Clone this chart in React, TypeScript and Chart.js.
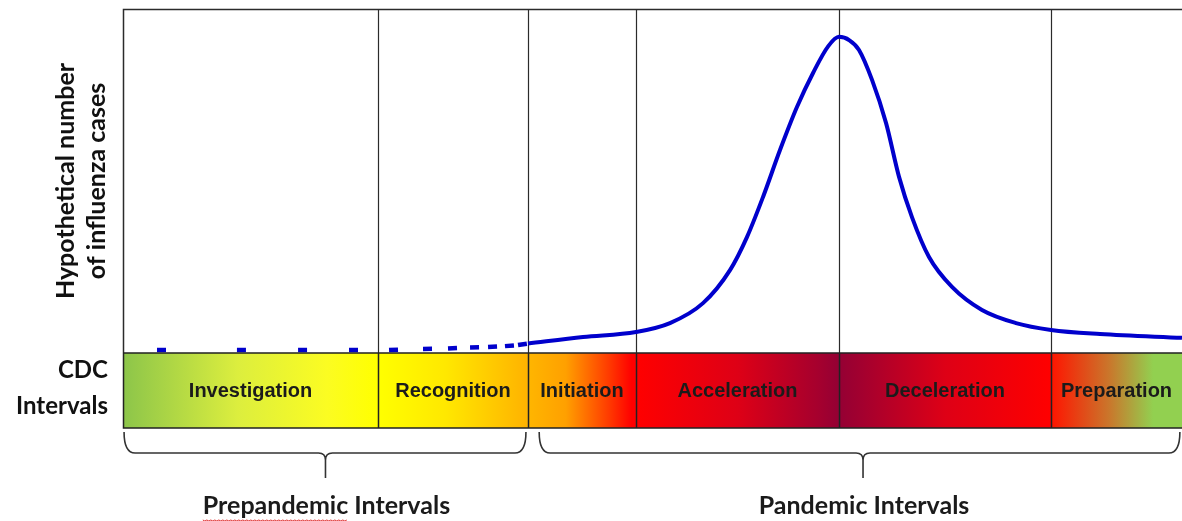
import { useEffect, useRef } from 'react';
import { Chart, registerables } from 'chart.js';

Chart.register(...registerables);

// ---- data (timeline units 0..100, relative number of cases 0..100) ----
const intervalNames = ['Investigation', 'Recognition', 'Initiation', 'Acceleration', 'Deceleration', 'Preparation'];
const intervalBounds = [0, 24.08, 38.24, 48.44, 67.61, 87.63, 100];

// dashed (prepandemic) part: each point starts one dash
const dashX = [3.21, 10.76, 16.53, 21.34, 25.12, 28.33, 30.69, 32.77, 34.47, 36.07, 37.3, 38.24];
const dashY = [0.87, 0.87, 0.87, 0.87, 0.87, 1.16, 1.3, 1.6, 1.74, 2.0, 2.3, 2.76];

// solid (pandemic) curve
const curveX = [38.24, 43.44, 48.44, 51.65, 54.77, 57.32, 58.92, 60.43, 62.04, 63.64, 65.16, 66.6, 67.61,
  68.6, 69.5, 70.73, 72.05, 73.28, 74.5, 76.11, 78.28, 81.11, 84.32, 87.63, 92.26, 100];
const curveY = [2.76, 4.65, 6.1, 8.7, 14.5, 24.1, 33.7, 45.3, 59.0, 71.5, 81.4, 89.2, 91.9,
  90.9, 88.1, 79.4, 66.9, 51.2, 39.5, 27.9, 19.2, 12.5, 8.7, 6.7, 5.5, 4.4];

const braceLabels = ['Prepandemic Intervals', 'Pandemic Intervals'];
const braceFrom = [0.1, 39.3];
const braceTo = [38.05, 99.8];
const braceTip = [19.12, 69.88];

const yTitleLines = ['Hypothetical number', 'of influenza cases'];
const bandTitleLines = ['CDC', 'Intervals'];

// ---- styles ----
const bandStops: [number, string][][] = [
  [[0, '#8cc54a'], [0.45, '#dcee3e'], [0.8, '#fbfc22'], [1, '#ffff00']],
  [[0, '#ffff00'], [0.45, '#ffe800'], [1, '#ffb200']],
  [[0, '#ffb600'], [0.35, '#ffa000'], [0.75, '#ff3a00'], [0.96, '#ff0000'], [1, '#ff0000']],
  [[0, '#ff0000'], [0.5, '#de0016'], [0.9, '#a5002e'], [1, '#940034']],
  [[0, '#940034'], [0.12, '#a5002e'], [0.5, '#de0016'], [1, '#ff0000']],
  [[0, '#ff1400'], [0.45, '#c9782c'], [0.78, '#92d050'], [1, '#92d050']],
];
const BLUE = '#0000cc';
const BAND_H = 75;
const TEXT = '#1b1b1b';
const TITLE_FONT = 'bold 25px Lato';
const SIDE_FONT = 'bold 24px Lato';

const overlay = {
  id: 'overlay',
  beforeDatasetsDraw(chart: any) {
    const { ctx, chartArea: a, scales } = chart;
    const x = scales.x;
    ctx.save();
    ctx.strokeStyle = '#2b2b2b';
    ctx.lineWidth = 1.5;
    ctx.beginPath();
    ctx.moveTo(a.left + 0.5, a.bottom);
    ctx.lineTo(a.left + 0.5, a.top + 0.5);
    ctx.lineTo(a.right, a.top + 0.5);
    ctx.stroke();
    ctx.lineWidth = 1.2;
    ctx.beginPath();
    for (let i = 1; i < intervalBounds.length - 1; i++) {
      const px = Math.round(x.getPixelForValue(intervalBounds[i])) + 0.5;
      ctx.moveTo(px, a.top);
      ctx.lineTo(px, a.bottom);
    }
    ctx.stroke();
    ctx.restore();
  },
  afterDraw(chart: any) {
    const { ctx, chartArea: a, scales } = chart;
    const x = scales.x;
    const top = a.bottom;
    const bottom = a.bottom + BAND_H;
    ctx.save();
    // band segments
    for (let i = 0; i < intervalNames.length; i++) {
      const x0 = x.getPixelForValue(intervalBounds[i]);
      const x1 = x.getPixelForValue(intervalBounds[i + 1]);
      const g = ctx.createLinearGradient(x0, 0, x1, 0);
      bandStops[i].forEach(([o, c]) => g.addColorStop(o, c));
      ctx.fillStyle = g;
      ctx.fillRect(x0, top, x1 - x0, BAND_H);
    }
    ctx.strokeStyle = '#222';
    ctx.lineWidth = 1.5;
    ctx.beginPath();
    ctx.moveTo(a.left + 0.5, top);
    ctx.lineTo(a.left + 0.5, bottom);
    ctx.lineTo(a.right, bottom);
    ctx.moveTo(a.left, top);
    ctx.lineTo(a.right, top);
    for (let i = 1; i < intervalBounds.length - 1; i++) {
      const px = Math.round(x.getPixelForValue(intervalBounds[i])) + 0.5;
      ctx.moveTo(px, top);
      ctx.lineTo(px, bottom);
    }
    ctx.stroke();
    // band labels
    ctx.fillStyle = TEXT;
    ctx.font = 'bold 20px "Liberation Sans"';
    ctx.textAlign = 'center';
    ctx.textBaseline = 'middle';
    for (let i = 0; i < intervalNames.length; i++) {
      const cx = (x.getPixelForValue(intervalBounds[i]) + x.getPixelForValue(intervalBounds[i + 1])) / 2;
      ctx.fillText(intervalNames[i], cx, (top + bottom) / 2 + 1);
    }
    // braces
    ctx.strokeStyle = '#333';
    ctx.lineWidth = 1.6;
    const yTop = bottom + 4;
    const yMid = bottom + 25;
    const yTip = bottom + 50;
    const r = 11;
    const r2 = 7;
    for (let i = 0; i < braceLabels.length; i++) {
      const x1 = x.getPixelForValue(braceFrom[i]);
      const x2 = x.getPixelForValue(braceTo[i]);
      const cx = x.getPixelForValue(braceTip[i]);
      ctx.beginPath();
      ctx.moveTo(x1, yTop);
      ctx.quadraticCurveTo(x1, yMid, x1 + r, yMid);
      ctx.lineTo(cx - r2, yMid);
      ctx.quadraticCurveTo(cx, yMid, cx, yMid + r2);
      ctx.lineTo(cx, yTip);
      ctx.moveTo(cx, yMid + r2);
      ctx.quadraticCurveTo(cx, yMid, cx + r2, yMid);
      ctx.lineTo(x2 - r, yMid);
      ctx.quadraticCurveTo(x2, yMid, x2, yTop);
      ctx.stroke();
      ctx.fillStyle = TEXT;
      ctx.font = TITLE_FONT;
      ctx.textAlign = 'center';
      ctx.textBaseline = 'middle';
      ctx.fillText(braceLabels[i], cx + 1, 506);
      if (i === 0) {
        // spell-check squiggle under the first word
        const full = ctx.measureText(braceLabels[i]).width;
        const word = ctx.measureText(braceLabels[i].split(' ')[0]).width;
        const sx = cx + 1 - full / 2;
        ctx.strokeStyle = '#e03030';
        ctx.lineWidth = 1;
        ctx.beginPath();
        for (let k = 0; k <= word; k += 2) {
          const yy = 520 + (Math.floor(k / 2) % 2 === 0 ? 0 : 1);
          if (k === 0) ctx.moveTo(sx + k, yy); else ctx.lineTo(sx + k, yy);
        }
        ctx.stroke();
        ctx.strokeStyle = '#333';
        ctx.lineWidth = 1.6;
      }
    }
    // y title (rotated, two lines)
    ctx.fillStyle = '#111';
    ctx.font = TITLE_FONT;
    ctx.textAlign = 'center';
    ctx.textBaseline = 'middle';
    const midY = (a.top + a.bottom) / 2;
    [66, 97].forEach((tx, i) => {
      ctx.save();
      ctx.translate(tx, midY);
      ctx.rotate(-Math.PI / 2);
      ctx.fillText(yTitleLines[i], 0, 0);
      ctx.restore();
    });
    // band title
    ctx.font = SIDE_FONT;
    ctx.textAlign = 'right';
    ctx.fillText(bandTitleLines[0], 108, top + 17);
    ctx.fillText(bandTitleLines[1], 108, top + 53);
    ctx.restore();
  },
};

export default function App() {
  const ref = useRef<HTMLCanvasElement>(null);
  useEffect(() => {
    if (!ref.current) return;
    const chart = new Chart(ref.current, {
      type: 'line',
      data: {
        datasets: [
          {
            label: 'Prepandemic (projected)',
            data: dashX.map((v, i) => ({ x: v, y: dashY[i] })),
            borderColor: BLUE,
            borderWidth: 4.5,
            pointRadius: 0,
            tension: 0,
            borderCapStyle: 'butt',
            segment: {
              borderDash: (c: any) => [9, 400 + c.p0DataIndex],
            },
          },
          {
            label: 'Hypothetical influenza cases',
            data: curveX.map((v, i) => ({ x: v, y: curveY[i] })),
            borderColor: BLUE,
            borderWidth: 4,
            pointRadius: 0,
            cubicInterpolationMode: 'monotone',
          },
        ],
      },
      options: {
        responsive: false,
        animation: false,
        events: [],
        layout: { padding: { left: 123, top: 9, right: 0, bottom: 521 - 353 } },
        plugins: { legend: { display: false }, tooltip: { enabled: false } },
        scales: {
          x: { type: 'linear', min: 0, max: 100, display: false },
          y: { type: 'linear', min: 0, max: 100, display: false },
        },
      },
      plugins: [overlay],
    } as any);
    return () => chart.destroy();
  }, []);
  return (
    <div style={{ position: 'fixed', left: 0, top: 0, width: 1182, height: 521, background: '#fff' }}>
      <canvas ref={ref} width={1182} height={521} style={{ display: 'block', width: 1182, height: 521 }} />
    </div>
  );
}
